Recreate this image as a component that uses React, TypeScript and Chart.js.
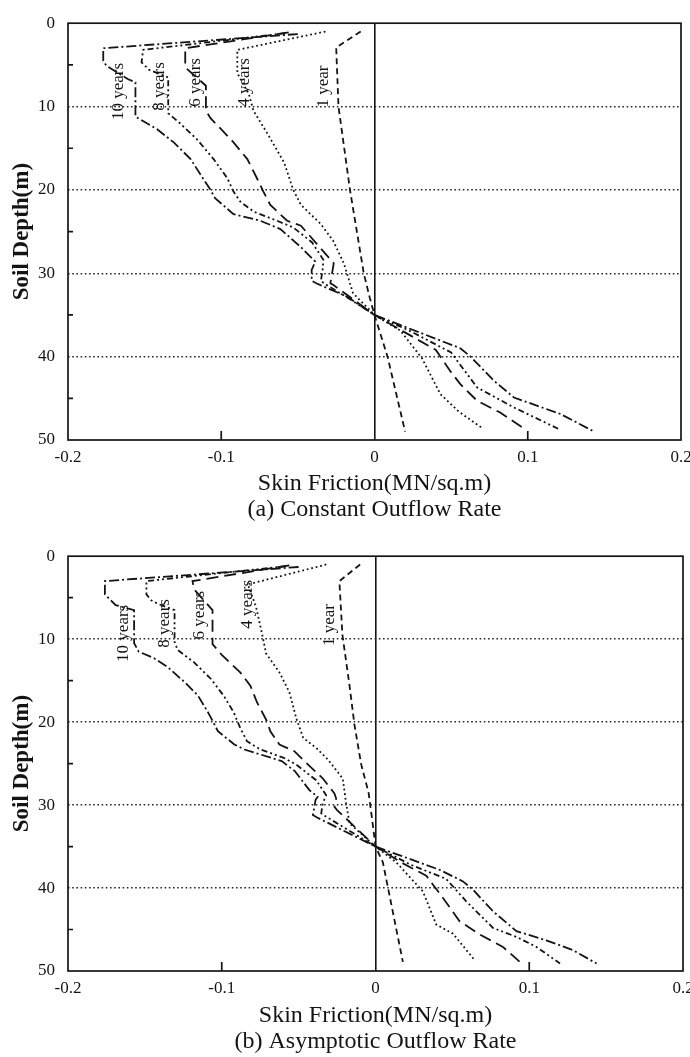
import React, { useEffect, useRef } from 'react';
import { Chart, registerables } from 'chart.js';

Chart.register(...registerables);

// ---------- shared ----------
const SERIES_NAMES = ['1 year', '4 years', '6 years', '8 years', '10 years'];
const X_TICK_VALUES = [-0.2, -0.1, 0, 0.1, 0.2];
const DEPTH_TICK_VALUES = [0, 10, 20, 30, 40, 50];
const MINOR_DEPTH_TICKS = [5, 15, 25, 35, 45];
const MINOR_FRICTION_TICKS = [-0.1, 0.1];
const X_TITLE = 'Skin Friction(MN/sq.m)';
const Y_TITLE = 'Soil Depth(m)';
const CAPTION_A = '(a) Constant Outflow Rate';
const CAPTION_B = '(b) Asymptotic Outflow Rate';

// ---------- (a) Constant Outflow Rate ----------
const A_1Y_DEPTH = [1.0, 2.9, 10, 20, 30, 33, 35, 40, 49];
const A_1Y_FRIC = [-0.009, -0.025, -0.0235, -0.016, -0.007, -0.003, 0, 0.0085, 0.02];

const A_4Y_DEPTH = [1.0, 3.2, 6.0, 8.5, 10.5, 13.2, 16.7, 20.0, 21.8, 24.1, 26.1, 28.8, 30.0, 32.4, 35.0, 36.9, 40.2, 44.5, 46.6, 48.6];
const A_4Y_FRIC = [-0.032, -0.0895, -0.0895, -0.082, -0.079, -0.07, -0.059, -0.053, -0.048, -0.035, -0.027, -0.02, -0.018, -0.014, 0, 0.017, 0.031, 0.043, 0.055, 0.0705];

const A_6Y_DEPTH = [1.1, 3.0, 5.3, 7.5, 10.5, 11.4, 12.6, 14.3, 16.3, 18.6, 20.2, 21.8, 23.7, 24.3, 26.5, 28.8, 30.0, 31.2, 31.4, 35.0, 37.0, 39.2, 41.8, 43.3, 45.3, 46.7, 48.7];
const A_6Y_FRIC = [-0.056, -0.1235, -0.1235, -0.11, -0.11, -0.107, -0.1007, -0.092, -0.083, -0.0767, -0.0725, -0.068, -0.057, -0.048, -0.0375, -0.0266, -0.0277, -0.0288, -0.0268, 0, 0.019, 0.04, 0.0497, 0.056, 0.067, 0.082, 0.098];

const A_8Y_DEPTH = [1.2, 3.2, 4.7, 5.6, 6.5, 10.8, 12.0, 13.9, 16.3, 18.6, 20.2, 21.4, 22.6, 23.7, 24.5, 26.3, 28.4, 29.8, 30.9, 31.2, 33.0, 35.0, 37.0, 39.5, 41.0, 43.7, 46.1, 48.8];
const A_8Y_FRIC = [-0.058, -0.151, -0.152, -0.147, -0.1346, -0.1346, -0.127, -0.116, -0.105, -0.096, -0.092, -0.0876, -0.0789, -0.0636, -0.053, -0.0407, -0.0333, -0.034, -0.035, -0.033, -0.017, 0, 0.024, 0.05, 0.056, 0.067, 0.091, 0.1216];

const A_10Y_DEPTH = [1.3, 3.0, 4.5, 5.1, 6.7, 7.1, 11.2, 12.7, 14.3, 16.3, 18.6, 20.0, 21.0, 22.9, 23.7, 24.7, 26.8, 28.6, 29.6, 30.9, 31.2, 32.8, 35.0, 39.0, 40.0, 42.9, 44.9, 46.9, 49.0];
const A_10Y_FRIC = [-0.05, -0.177, -0.177, -0.175, -0.161, -0.156, -0.156, -0.142, -0.131, -0.12, -0.112, -0.107, -0.104, -0.092, -0.0745, -0.0614, -0.0484, -0.0386, -0.041, -0.041, -0.038, -0.018, 0, 0.056, 0.0627, 0.078, 0.091, 0.1216, 0.1434];

const A_LABEL_FRIC = [-0.033, -0.085, -0.1165, -0.14, -0.167];
const A_LABEL_DEPTH = [7.6, 7.1, 7.1, 7.6, 8.2];

// ---------- (b) Asymptotic Outflow Rate ----------
const B_1Y_DEPTH = [1.0, 3.0, 9.5, 15.6, 20.3, 25.1, 28.5, 32.0, 35.0, 36.9, 48.9];
const B_1Y_FRIC = [-0.01, -0.0235, -0.0215, -0.0169, -0.0137, -0.0093, -0.0045, -0.002, 0, 0.0048, 0.0178];

const B_4Y_DEPTH = [1.0, 3.4, 6.1, 9.7, 11.7, 14.0, 16.4, 19.5, 21.9, 23.2, 24.5, 26.8, 29.8, 32.2, 35.0, 36.9, 40.4, 44.4, 45.5, 48.7];
const B_4Y_FRIC = [-0.032, -0.083, -0.0777, -0.0734, -0.0712, -0.0625, -0.056, -0.0516, -0.047, -0.038, -0.031, -0.0213, -0.0191, -0.0169, 0, 0.0135, 0.0308, 0.0395, 0.0504, 0.0645];

const B_6Y_DEPTH = [1.1, 3.0, 4.0, 6.5, 10.6, 11.9, 14.0, 15.6, 17.6, 19.9, 21.1, 22.7, 23.5, 24.7, 26.8, 28.6, 29.2, 30.2, 30.6, 35.0, 36.9, 38.5, 41.2, 44.0, 45.6, 47.1, 48.9];
const B_6Y_FRIC = [-0.056, -0.119, -0.118, -0.106, -0.106, -0.1, -0.088, -0.0814, -0.0771, -0.0706, -0.0684, -0.0625, -0.0528, -0.0463, -0.0342, -0.0267, -0.0256, -0.0267, -0.025, 0, 0.0165, 0.033, 0.0439, 0.0547, 0.0678, 0.0829, 0.0938];

const B_8Y_DEPTH = [1.2, 3.0, 4.6, 5.3, 5.75, 6.5, 10.3, 11.3, 12.8, 14.8, 16.8, 18.8, 20.7, 22.3, 23.3, 24.3, 25.1, 27.0, 28.8, 29.8, 31.0, 31.3, 35.0, 37.2, 38.9, 41.6, 44.8, 45.9, 47.1, 49.1];
const B_8Y_FRIC = [-0.058, -0.149, -0.149, -0.146, -0.1415, -0.1307, -0.1307, -0.1287, -0.118, -0.107, -0.0988, -0.0923, -0.088, -0.0836, -0.0749, -0.0597, -0.0517, -0.0386, -0.0321, -0.0343, -0.0353, -0.033, 0, 0.023, 0.046, 0.059, 0.0764, 0.0917, 0.1047, 0.12];

const B_10Y_DEPTH = [1.3, 3.0, 4.6, 5.9, 6.5, 10.5, 11.5, 12.3, 13.4, 15.2, 16.8, 18.8, 19.9, 21.1, 22.7, 23.3, 24.7, 25.9, 28.2, 29.0, 29.4, 31.2, 31.5, 35.0, 37.8, 39.2, 40.2, 42.8, 45.2, 46.3, 47.5, 49.1];
const B_10Y_FRIC = [-0.05, -0.176, -0.176, -0.169, -0.157, -0.157, -0.154, -0.144, -0.135, -0.124, -0.1155, -0.109, -0.1058, -0.1025, -0.0918, -0.0853, -0.061, -0.0525, -0.043, -0.0376, -0.039, -0.0407, -0.038, 0, 0.0417, 0.0569, 0.0634, 0.0764, 0.0917, 0.111, 0.1286, 0.1438];

const B_LABEL_FRIC = [-0.03, -0.0835, -0.1145, -0.137, -0.164];
const B_LABEL_DEPTH = [8.3, 5.8, 7.1, 8.1, 9.3];

// ---------- styles ----------
const FONT_FAMILY = "'Liberation Serif', 'Times New Roman', serif";
const INK = '#141414';
const DASHES = [[6, 4], [1.8, 2.8], [12, 6], [6, 3, 2, 3, 2, 3], [10, 3, 2, 3]];

const toPoints = (fr: number[], dp: number[]) => fr.map((v, i) => ({ x: v, y: dp[i] }));

const notesPlugin = {
  id: 'notes',
  afterDatasetsDraw(chart: any, _args: any, opts: any) {
    const { ctx, chartArea: a, scales } = chart;
    const xs = scales.x;
    const ys = scales.y;
    ctx.save();
    ctx.setLineDash([]);
    ctx.strokeStyle = INK;
    ctx.lineWidth = 1.7;
    ctx.strokeRect(a.left, a.top, a.right - a.left, a.bottom - a.top);
    ctx.beginPath();
    for (const d of MINOR_DEPTH_TICKS) {
      const y = ys.getPixelForValue(d);
      ctx.moveTo(a.left, y);
      ctx.lineTo(a.left + 5, y);
    }
    for (const f of MINOR_FRICTION_TICKS) {
      const x = xs.getPixelForValue(f);
      ctx.moveTo(x, a.bottom);
      ctx.lineTo(x, a.bottom - 9);
    }
    ctx.stroke();
    ctx.fillStyle = INK;
    ctx.font = `17px ${FONT_FAMILY}`;
    ctx.textAlign = 'center';
    ctx.textBaseline = 'middle';
    SERIES_NAMES.forEach((name, i) => {
      const x = xs.getPixelForValue(opts.fric[i]);
      const y = ys.getPixelForValue(opts.depth[i]);
      ctx.save();
      ctx.translate(x, y);
      ctx.rotate(-Math.PI / 2);
      ctx.fillText(name, 0, 0);
      ctx.restore();
    });
    ctx.restore();
  },
};

function makeConfig(series: { fr: number[]; dp: number[] }[], caption: string, labelFric: number[], labelDepth: number[], xAxisHeight: number, titlePadBottom: number, padRight: number): any {
  return {
    type: 'scatter',
    data: {
      datasets: series.map((s, i) => ({
        label: SERIES_NAMES[i],
        data: toPoints(s.fr, s.dp),
        showLine: true,
        borderColor: INK,
        borderWidth: 1.8,
        borderDash: DASHES[i],
        pointRadius: 0,
        fill: false,
        tension: 0,
      })),
    },
    options: {
      responsive: false,
      maintainAspectRatio: false,
      animation: false,
      devicePixelRatio: 1,
      layout: { padding: { left: 0, top: 15, right: padRight, bottom: 0 } },
      plugins: {
        legend: { display: false },
        tooltip: { enabled: false },
        notes: { fric: labelFric, depth: labelDepth },
      },
      scales: {
        x: {
          type: 'linear',
          min: -0.2,
          max: 0.2,
          afterBuildTicks: (scale: any) => {
            scale.ticks = X_TICK_VALUES.map((v) => ({ value: v }));
          },
          afterFit: (scale: any) => {
            scale.height = xAxisHeight;
          },
          ticks: {
            padding: 7,
            color: INK,
            font: { family: FONT_FAMILY, size: 17 },
            maxRotation: 0,
            callback: (v: number) => String(Math.round(v * 10) / 10),
          },
          grid: {
            drawTicks: false,
            lineWidth: 1.6,
            color: (c: any) => (c.tick && Math.abs(c.tick.value) < 1e-9 ? INK : 'rgba(0,0,0,0)'),
          },
          border: { display: false },
          title: {
            display: true,
            text: [X_TITLE, caption],
            color: INK,
            font: { family: FONT_FAMILY, size: 24, lineHeight: 1.1 },
            padding: { top: 0, bottom: titlePadBottom },
          },
        },
        y: {
          type: 'linear',
          reverse: true,
          min: 0,
          max: 50,
          afterBuildTicks: (scale: any) => {
            scale.ticks = DEPTH_TICK_VALUES.map((v) => ({ value: v }));
          },
          afterFit: (scale: any) => {
            scale.width = 68;
          },
          ticks: {
            padding: 13,
            color: INK,
            font: { family: FONT_FAMILY, size: 17 },
          },
          grid: {
            drawTicks: false,
            lineWidth: 1.5,
            color: (c: any) => (c.tick && c.tick.value > 0 && c.tick.value < 50 ? '#2a2a2a' : 'rgba(0,0,0,0)'),
          },
          border: { display: false, dash: [1.6, 2.6] },
          title: {
            display: true,
            text: Y_TITLE,
            color: INK,
            font: { family: FONT_FAMILY, size: 23, weight: 'bold' },
            padding: { top: 8, bottom: 0 },
          },
        },
      },
    },
    plugins: [notesPlugin],
  };
}

export default function App() {
  const topRef = useRef<HTMLCanvasElement | null>(null);
  const botRef = useRef<HTMLCanvasElement | null>(null);

  useEffect(() => {
    const seriesA = [
      { fr: A_1Y_FRIC, dp: A_1Y_DEPTH },
      { fr: A_4Y_FRIC, dp: A_4Y_DEPTH },
      { fr: A_6Y_FRIC, dp: A_6Y_DEPTH },
      { fr: A_8Y_FRIC, dp: A_8Y_DEPTH },
      { fr: A_10Y_FRIC, dp: A_10Y_DEPTH },
    ];
    const seriesB = [
      { fr: B_1Y_FRIC, dp: B_1Y_DEPTH },
      { fr: B_4Y_FRIC, dp: B_4Y_DEPTH },
      { fr: B_6Y_FRIC, dp: B_6Y_DEPTH },
      { fr: B_8Y_FRIC, dp: B_8Y_DEPTH },
      { fr: B_10Y_FRIC, dp: B_10Y_DEPTH },
    ];
    const c1 = new Chart(topRef.current as HTMLCanvasElement, makeConfig(seriesA, CAPTION_A, A_LABEL_FRIC, A_LABEL_DEPTH, 93, 9.8, 29));
    const c2 = new Chart(botRef.current as HTMLCanvasElement, makeConfig(seriesB, CAPTION_B, B_LABEL_FRIC, B_LABEL_DEPTH, 86, 1.8, 27));
    return () => {
      c1.destroy();
      c2.destroy();
    };
  }, []);

  return (
    <div style={{ position: 'fixed', left: 0, top: 0, width: 690, height: 1057, overflow: 'hidden', background: '#fff' }}>
      <canvas ref={topRef} width={710} height={533} style={{ position: 'absolute', left: 0, top: 0, width: 710, height: 533 }} />
      <canvas ref={botRef} width={710} height={524} style={{ position: 'absolute', left: 0, top: 533, width: 710, height: 524 }} />
    </div>
  );
}
